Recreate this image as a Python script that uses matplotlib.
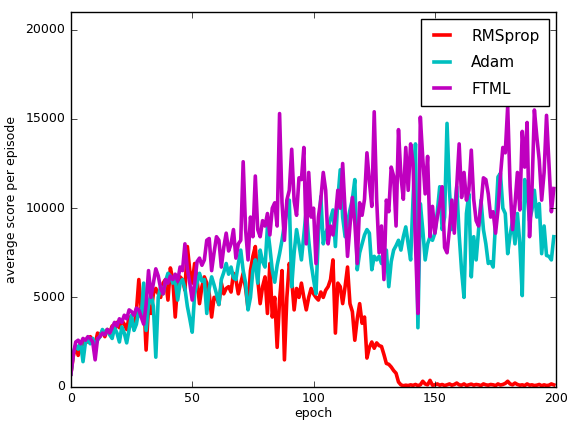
import numpy as np
import matplotlib
matplotlib.use("Agg")
import matplotlib.pyplot as plt

plt.style.use('classic')

epochs = list(range(200))

rmsprop = [
    700, 1700, 2300, 1750, 2200, 2400, 2600, 2500, 2800, 2600,
    2400, 3000, 2900, 3100, 2800, 3200, 3000, 3400, 3100, 3600,
    3300, 3700, 3500, 3200, 3900, 3500, 3300, 4200, 6000, 4300,
    5000, 2050, 4500, 4100, 5200, 5500, 5200, 5000, 5800, 6000,
    4850, 6650, 6000, 3900, 5800, 6150, 6000, 5400, 7850, 6500,
    5800, 6900, 6000, 4650, 5600, 6150, 5800, 5200, 3900, 5000,
    5000, 4600, 5800, 5200, 5500, 5600, 5300, 6350, 6000, 5200,
    5800, 6350, 5500, 4400, 6500, 7300, 7850, 6000, 4650, 5600,
    6150, 4100, 6900, 3900, 5000, 2200, 4850, 6500, 1500, 5000,
    6900, 6000, 4300, 5500, 5000, 5800, 5000, 4300, 5000, 5500,
    5200, 5000, 4850, 5300, 5000, 5400, 5600, 6000, 7100, 3000,
    5800, 5600, 4650, 5600, 6700, 4650, 4200, 2600, 3800, 4650,
    3550, 3900, 1600, 2200, 2500, 2150, 2450, 2300, 2250, 1800,
    1300, 1250, 1100, 900, 750, 260, 100, 50, 80, 60,
    100, 70, 120, 60, 100, 300, 150, 100, 350, 80,
    100, 150, 80, 120, 60, 100, 150, 80, 120, 200,
    100, 80, 150, 60, 100, 140, 80, 120, 100, 60,
    150, 100, 80, 120, 100, 60, 150, 90, 120, 180,
    300, 150, 100, 200, 120, 80, 100, 60, 150, 80,
    100, 60, 80, 120, 50, 100, 60, 80, 150, 100,
]

adam = [
    700, 1900, 2300, 2100, 2500, 1400, 2500, 2600, 2400, 2700,
    2300, 2600, 2800, 3200, 3000, 3200, 2900, 2700, 3300, 3000,
    2500, 3350, 3000, 2450, 3200, 4000, 3150, 3500, 4300, 3900,
    5800, 3150, 4600, 5200, 4500, 1650, 5000, 5600, 5200, 5900,
    6350, 6200, 5800, 6000, 4850, 5800, 6000, 5500, 4500, 3800,
    3050, 5200, 5800, 6350, 5900, 6000, 4100, 5500, 6150, 5700,
    5200, 4600, 6000, 6400, 6900, 6300, 6700, 6100, 6000, 6900,
    7650, 6500, 5800, 4300, 5000, 6500, 7100, 5800, 7650, 7000,
    6700, 8950, 7800, 6500, 5850, 6800, 7450, 8200, 9100, 9800,
    10450, 5600, 7500, 8800, 8000, 7100, 8500, 9900, 8200, 6900,
    6000, 5200, 8500, 10650, 8000, 8600, 8950, 9400, 9900, 7850,
    10500, 12150, 9500, 8400, 9200, 9900, 10500, 11600, 6550, 7500,
    8000, 8500, 8800, 8600, 6550, 7300, 7100, 7300, 6900, 7200,
    7650, 5600, 7000, 7650, 7900, 8200, 7650, 8400, 8950, 8000,
    7100, 10500, 13600, 3300, 10250, 8800, 7100, 8000, 8400, 8200,
    8600, 9800, 11200, 8800, 9500, 14750, 11000, 8800, 9800, 11200,
    8500, 6500, 5000, 9700, 10800, 6150, 8400, 7100, 8800, 10450,
    8800, 8000, 6900, 7000, 6700, 9200, 11750, 11950, 10000, 9700,
    7450, 8500, 9300, 8000, 9700, 8000, 5100, 11600, 10800, 9300,
    9900, 11000, 9500, 10250, 7450, 9000, 7350, 7300, 7100, 8400,
]

ftml = [
    700, 1800, 2500, 2600, 2400, 2700, 2600, 2800, 2700, 2500,
    1500, 2700, 2800, 3000, 2900, 3200, 3000, 3300, 3600, 3400,
    3800, 3600, 4000, 3800, 4300, 4200, 4000, 4400, 4300, 3900,
    3500, 4600, 6500, 5000, 5800, 6600, 6200, 5500, 5200, 6000,
    5800, 6200, 6000, 6300, 5900, 6700, 6500, 8000, 6600, 5800,
    4850, 5800, 7000, 7200, 6800, 7100, 8200, 8300, 6500, 7500,
    8400, 8200, 6700, 7800, 8600, 7600, 8000, 8800, 7200, 8000,
    8200, 12600, 8800, 7100, 9500, 8400, 11800, 8800, 8400, 9300,
    9000, 9700, 8500, 10000, 10300, 9000, 15300, 10300, 8200, 10450,
    11000, 13300, 10400, 9600, 11700, 11600, 13400, 8000, 12000, 9500,
    10000, 6900, 9500, 10500, 12000, 11000, 8000, 9000, 8500, 9500,
    11000, 10000, 12500, 9800, 7300, 9000, 10600, 9200, 6900, 10300,
    9600, 10500, 13100, 11500, 10100, 15400, 10500, 7500, 9000, 6000,
    10450, 9800, 12300, 11800, 9000, 14400, 11800, 10500, 13400, 11000,
    13600, 12500, 8000, 4100, 15100, 12800, 10800, 12900, 8400, 10100,
    8600, 9500, 10200, 11200, 7800, 7500, 8800, 10450, 8600, 11200,
    13600, 10600, 12000, 10450, 11000, 13250, 10500, 9300, 9000, 10200,
    11700, 11600, 10800, 9500, 9800, 8600, 9900, 11800, 13400, 13100,
    15700, 11200, 8800, 10200, 12000, 9900, 14300, 12300, 14800, 8400,
    11000, 15500, 14000, 12700, 10450, 12000, 15200, 12500, 9800, 11100,
]

series = [("RMSprop", rmsprop, "r"), ("Adam", adam, "c"), ("FTML", ftml, "m")]

fig = plt.figure(figsize=(5.67, 4.23), dpi=100, facecolor="white")
ax = fig.add_axes([0.125, 0.086, 0.856, 0.886])
ax.set_facecolor("white")

for name, vals, col in series:
    ax.plot(epochs, vals, color=col, lw=2.6, label=name)

ax.set_xlim(0, 200)
ax.set_ylim(0, 21000)
ax.set_yticks([0, 5000, 10000, 15000, 20000])
ax.set_xticks([0, 50, 100, 150, 200])
ax.tick_params(labelsize=9)
ax.set_xlabel("epoch", fontsize=9, labelpad=1)
ax.set_ylabel("average score per episode", fontsize=9)
leg = ax.legend(loc="upper right", fontsize=11, fancybox=False,
                handlelength=1.6, handletextpad=1.1, labelspacing=0.75,
                borderpad=0.6)

fig.savefig("out.png", dpi=100, facecolor="white")
